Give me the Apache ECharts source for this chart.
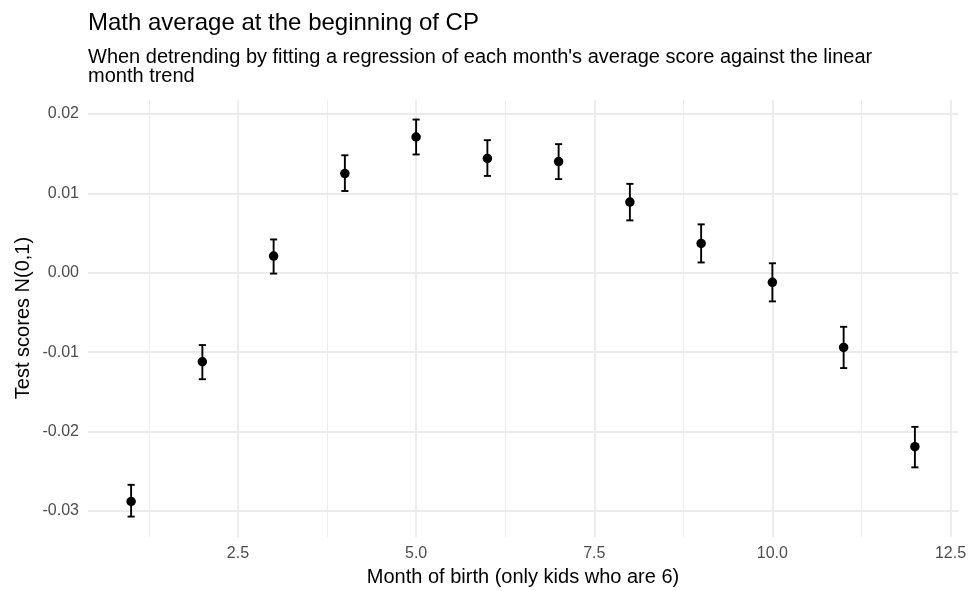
<!DOCTYPE html>
<html>
<head>
<meta charset="utf-8">
<script src="https://cdn.jsdelivr.net/npm/echarts@6/dist/echarts.min.js"></script>
<style>
  html, body { margin: 0; padding: 0; background: #ffffff; }
  #chart { width: 971px; height: 591px; }
</style>
</head>
<body>
<div id="chart"></div>
<script>
// Month of birth and the detrended math score with its confidence interval
const months = [1, 2, 3, 4, 5, 6, 7, 8, 9, 10, 11, 12];
const means = [-0.0288, -0.0112, 0.0021, 0.0125, 0.0171, 0.0144, 0.0140, 0.0089, 0.0037, -0.0012, -0.0094, -0.0219];
const lower = [-0.0307, -0.0134, -0.0001, 0.0103, 0.0149, 0.0122, 0.0118, 0.0066, 0.0013, -0.0036, -0.0120, -0.0245];
const upper = [-0.0267, -0.0091, 0.0042, 0.0148, 0.0193, 0.0167, 0.0162, 0.0112, 0.0061, 0.0012, -0.0068, -0.0194];

// Axis breaks
const xTicks = [2.5, 5, 7.5, 10, 12.5];
const xMinorTicks = [1.25, 3.75, 6.25, 8.75, 11.25];
const yTicks = [-0.03, -0.02, -0.01, 0, 0.01, 0.02];
const yMinorTicks = [-0.025, -0.015, -0.005, 0.005, 0.015];

const FONT = "'Liberation Sans', Arial, Helvetica, sans-serif";
const capWidth = 0.1;

const chart = echarts.init(document.getElementById('chart'), null, { renderer: 'canvas' });

const gridMajor = { color: '#EBEBEB', width: 1.8, type: 'solid' };
const gridMinor = { color: '#EBEBEB', width: 0.9, type: 'solid' };

const gridLines = []
  .concat(xMinorTicks.map(v => ({ xAxis: v, lineStyle: gridMinor })))
  .concat(yMinorTicks.map(v => ({ yAxis: v, lineStyle: gridMinor })))
  .concat(xTicks.map(v => ({ xAxis: v, lineStyle: gridMajor })))
  .concat(yTicks.map(v => ({ yAxis: v, lineStyle: gridMajor })));

const option = {
  backgroundColor: '#ffffff',
  animation: false,
  grid: { left: 88, right: 13, top: 100, bottom: 54, containLabel: false },
  xAxis: {
    type: 'value',
    min: 0.395,
    max: 12.605,
    axisLine: { show: false },
    axisTick: { show: false },
    splitLine: { show: false },
    axisLabel: {
      customValues: xTicks,
      formatter: v => v.toFixed(1),
      color: '#4D4D4D',
      fontSize: 16,
      fontFamily: FONT,
      margin: 9
    }
  },
  yAxis: {
    type: 'value',
    min: -0.03327,
    max: 0.02176,
    axisLine: { show: false },
    axisTick: { show: false },
    splitLine: { show: false },
    axisLabel: {
      customValues: yTicks,
      formatter: v => v.toFixed(2),
      color: '#4D4D4D',
      fontSize: 16,
      fontFamily: FONT,
      margin: 9
    }
  },
  graphic: [
    {
      type: 'text', left: 88, top: 11,
      style: { text: 'Math average at the beginning of CP', fill: '#000000', font: '24px ' + FONT }
    },
    {
      type: 'text', left: 88, top: 47,
      style: {
        text: "When detrending by fitting a regression of each month's average score against the linear\nmonth trend",
        fill: '#000000', font: '20px ' + FONT, lineHeight: 19
      }
    },
    {
      type: 'text', x: 523, y: 577,
      style: { text: 'Month of birth (only kids who are 6)', fill: '#000000', font: '20px ' + FONT, align: 'center', verticalAlign: 'middle' }
    },
    {
      type: 'text', x: 23, y: 318, rotation: Math.PI / 2,
      style: { text: 'Test scores N(0,1)', fill: '#000000', font: '20px ' + FONT, align: 'center', verticalAlign: 'middle' }
    }
  ],
  series: [
    {
      // panel grid, kept underneath the marks
      type: 'scatter',
      data: [],
      z: 0,
      silent: true,
      markLine: {
        z: 0,
        silent: true,
        symbol: ['none', 'none'],
        label: { show: false },
        animation: false,
        data: gridLines
      }
    },
    {
      // confidence intervals
      type: 'custom',
      z: 10,
      silent: true,
      data: months.map((m, i) => [m, lower[i], upper[i]]),
      encode: { x: 0, y: [1, 2] },
      renderItem: function (params, api) {
        const x = api.value(0);
        const lo = api.coord([x, api.value(1)]);
        const hi = api.coord([x, api.value(2)]);
        const half = api.size([capWidth, 0])[0] / 2;
        const style = { stroke: '#000000', lineWidth: 1.9, fill: null };
        return {
          type: 'group',
          children: [
            { type: 'line', shape: { x1: lo[0], y1: lo[1], x2: hi[0], y2: hi[1] }, style: style },
            { type: 'line', shape: { x1: hi[0] - half, y1: hi[1], x2: hi[0] + half, y2: hi[1] }, style: style },
            { type: 'line', shape: { x1: lo[0] - half, y1: lo[1], x2: lo[0] + half, y2: lo[1] }, style: style }
          ]
        };
      }
    },
    {
      // monthly averages
      type: 'scatter',
      z: 11,
      symbol: 'circle',
      symbolSize: 9.5,
      itemStyle: { color: '#000000', opacity: 1 },
      data: months.map((m, i) => [m, means[i]])
    }
  ]
};

chart.setOption(option);
</script>
</body>
</html>
